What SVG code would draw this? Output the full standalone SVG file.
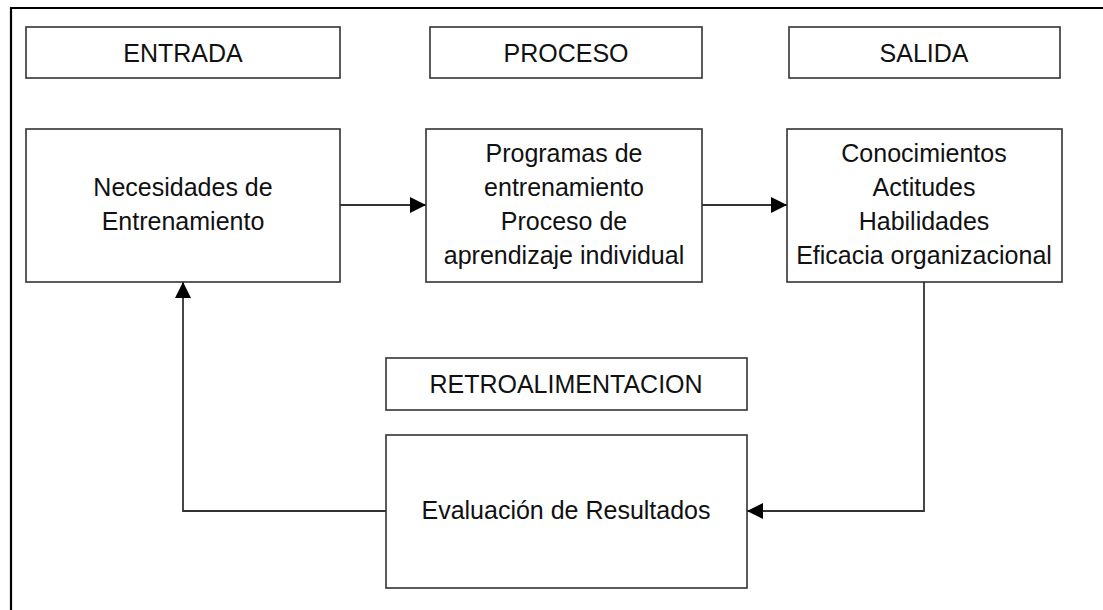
<svg xmlns="http://www.w3.org/2000/svg" width="1103" height="610" viewBox="0 0 1103 610">
<style>
.box{fill:#fff;stroke:#333;stroke-width:1.6}
.t{font-family:"Liberation Sans",Arial,sans-serif;font-size:25px;fill:#111;text-anchor:middle}
.ln{fill:none;stroke:#333;stroke-width:1.8}
</style>
<defs>
<marker id="ah" markerUnits="userSpaceOnUse" markerWidth="17" markerHeight="16" refX="16" refY="8" orient="auto">
<path d="M0,0 L16,8 L0,16 Z" fill="#000"/>
</marker>
</defs>
<rect width="1103" height="610" fill="#fff"/>
<path d="M11,610 V8 H1103" fill="none" stroke="#000" stroke-width="2.2"/>
<g id="entrada">
<rect class="box" x="26" y="27" width="314" height="51"/>
<text class="t" x="183" y="62">ENTRADA</text>
</g>
<g id="proceso">
<rect class="box" x="430" y="27" width="272" height="51"/>
<text class="t" x="566" y="62">PROCESO</text>
</g>
<g id="salida">
<rect class="box" x="789" y="27" width="271" height="51"/>
<text class="t" x="924" y="62">SALIDA</text>
</g>
<g id="necesidades">
<rect class="box" x="26" y="129" width="314" height="153"/>
<text class="t" x="183" y="196">Necesidades de</text>
<text class="t" x="183" y="230">Entrenamiento</text>
</g>
<g id="programas">
<rect class="box" x="426" y="129" width="276" height="153"/>
<text class="t" x="564" y="162">Programas de</text>
<text class="t" x="564" y="196">entrenamiento</text>
<text class="t" x="564" y="230">Proceso de</text>
<text class="t" x="564" y="264">aprendizaje individual</text>
</g>
<g id="resultados">
<rect class="box" x="787" y="129" width="275" height="153"/>
<text class="t" x="924" y="162">Conocimientos</text>
<text class="t" x="924" y="196">Actitudes</text>
<text class="t" x="924" y="230">Habilidades</text>
<text class="t" x="924" y="264">Eficacia organizacional</text>
</g>
<g id="retroalimentacion">
<rect class="box" x="386" y="358" width="361" height="52"/>
<text class="t" x="566" y="393">RETROALIMENTACION</text>
</g>
<g id="evaluacion">
<rect class="box" x="386" y="435" width="361" height="153"/>
<text class="t" x="566" y="519">Evaluación de Resultados</text>
</g>
<g id="connectors">
<path class="ln" d="M340,205 H426" marker-end="url(#ah)"/>
<path class="ln" d="M702,205 H787" marker-end="url(#ah)"/>
<path class="ln" d="M924,282 V511 H747" marker-end="url(#ah)"/>
<path class="ln" d="M386,511 H183 V282" marker-end="url(#ah)"/>
</g>
</svg>
